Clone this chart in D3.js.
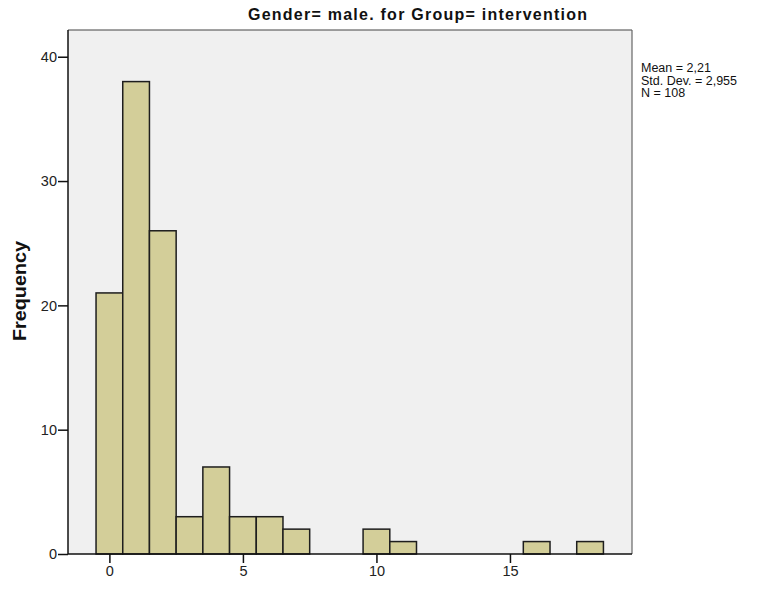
<!DOCTYPE html>
<html>
<head>
<meta charset="utf-8">
<script src="https://cdn.jsdelivr.net/npm/d3@7/dist/d3.min.js"></script>
<style>
  body { margin: 0; background: #fff; }
  svg { display: block; font-family: "Liberation Sans", Arial, sans-serif; }
</style>
</head>
<body>
<svg id="chart" width="759" height="592"></svg>
<script>
// Histogram bins: integer centre of each bin and its count
const binCenters = [0, 1, 2, 3, 4, 5, 6, 7, 10, 11, 16, 18];
const binCounts  = [21, 38, 26, 3, 7, 3, 3, 2, 2, 1, 1, 1];
const xTicks = [0, 5, 10, 15];
const yTicks = [0, 10, 20, 30, 40];
const titleText = "Gender= male. for Group= intervention";
const yLabel = "Frequency";
const statsLines = ["Mean = 2,21", "Std. Dev. = 2,955", "N = 108"];

const svg = d3.select("#chart");
const plot = { left: 68, right: 632, top: 30, bottom: 554 };

const x = d3.scaleLinear().domain([-1.55, 19.57]).range([plot.left, plot.right]);
const y = d3.scaleLinear().domain([0, 42.15]).range([plot.bottom, plot.top]);

// panel background
svg.append("rect")
  .attr("x", plot.left).attr("y", plot.top)
  .attr("width", plot.right - plot.left).attr("height", plot.bottom - plot.top)
  .attr("fill", "#f0f0f0");

// bars
const bins = binCenters.map((c, i) => ({ c, n: binCounts[i] }));
svg.append("g").selectAll("rect").data(bins).join("rect")
  .attr("x", d => x(d.c - 0.5))
  .attr("y", d => y(d.n))
  .attr("width", d => x(d.c + 0.5) - x(d.c - 0.5))
  .attr("height", d => y(0) - y(d.n))
  .attr("fill", "#d3ce99")
  .attr("stroke", "#1e1e1e")
  .attr("stroke-width", 1.5);

// frame: top/right grey, left/bottom black
svg.append("line").attr("x1", plot.left).attr("x2", plot.right)
  .attr("y1", plot.top).attr("y2", plot.top).attr("stroke", "#444").attr("stroke-width", 1.2);
svg.append("line").attr("x1", plot.right).attr("x2", plot.right)
  .attr("y1", plot.top).attr("y2", plot.bottom).attr("stroke", "#666").attr("stroke-width", 1.2);

// axes
const xAxis = svg.append("g")
  .attr("transform", `translate(0,${plot.bottom})`)
  .call(d3.axisBottom(x).tickValues(xTicks).tickSize(9).tickPadding(3).tickFormat(d3.format("d")));
const yAxis = svg.append("g")
  .attr("transform", `translate(${plot.left},0)`)
  .call(d3.axisLeft(y).tickValues(yTicks).tickSize(10).tickPadding(1).tickFormat(d3.format("d")));

[xAxis, yAxis].forEach(g => {
  g.select(".domain").attr("stroke", "#111").attr("stroke-width", 1.5);
  g.selectAll(".tick line").attr("stroke", "#111").attr("stroke-width", 1.5);
  g.selectAll(".tick text").attr("fill", "#222")
    .style("font-size", "14.5px").style("font-family", "'Liberation Sans', Arial, sans-serif");
});
xAxis.select(".domain").attr("d", `M${plot.left},0H${plot.right}`);
yAxis.select(".domain").attr("d", `M0,${plot.top}V${plot.bottom}`);

// title
svg.append("text")
  .attr("x", 248).attr("y", 20)
  .attr("textLength", 339).attr("lengthAdjust", "spacing")
  .style("font-size", "16px").style("font-weight", "bold")
  .attr("fill", "#111")
  .text(titleText);

// y axis label
svg.append("text")
  .attr("transform", "translate(26,291) rotate(-90)")
  .attr("text-anchor", "middle")
  .attr("textLength", 100).attr("lengthAdjust", "spacingAndGlyphs")
  .style("font-size", "18px").style("font-weight", "bold")
  .attr("fill", "#111")
  .text(yLabel);

// summary statistics
svg.append("g").selectAll("text").data(statsLines).join("text")
  .attr("x", 641).attr("y", (d, i) => 72 + i * 12.5)
  .style("font-size", "12.5px")
  .attr("fill", "#111")
  .text(d => d);
</script>
</body>
</html>
